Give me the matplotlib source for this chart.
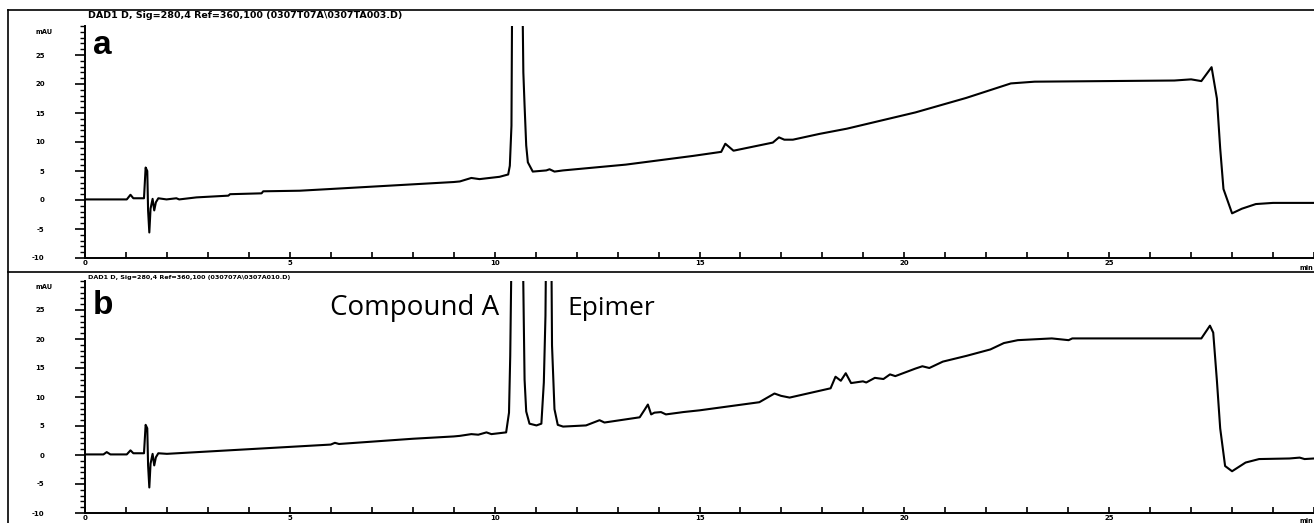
import matplotlib
matplotlib.use("Agg")
import matplotlib.pyplot as plt
from matplotlib.lines import Line2D
from matplotlib.ticker import MultipleLocator

# chromatogram a (time in min, signal in mAU)
t_a = [0.0, 0.5, 1.02, 1.11, 1.18, 1.44, 1.48, 1.52, 1.54, 1.57, 1.60, 1.65, 1.69, 1.73,
       1.79, 1.99, 2.23, 2.30, 2.72, 3.5, 3.54, 4.31, 4.35, 5.24, 6.0, 7.0, 8.0, 9.0,
       9.15, 9.43, 9.63, 10.12, 10.33, 10.37, 10.41, 10.43, 10.55, 10.67, 10.70, 10.73,
       10.77, 10.81, 10.93, 11.26, 11.34, 11.46, 11.67,
       13.2, 14.84, 15.53, 15.63, 15.83, 16.79, 16.94, 17.07, 17.28, 17.93, 18.6, 20.27,
       21.51, 22.6, 23.18, 26.59, 27.0, 27.25,
       27.5, 27.63, 27.71, 27.79, 28.0, 28.24, 28.58, 29.0, 30.0]
mau_a = [0.1, 0.1, 0.1, 0.9, 0.3, 0.3, 5.6, 5.0, -1.8, -5.6, -1.5, 0.2, -1.8, -0.4,
         0.3, 0.1, 0.3, 0.1, 0.45, 0.75, 1.0, 1.15, 1.5, 1.6, 1.9, 2.3, 2.7, 3.1,
         3.2, 3.8, 3.6, 4.0, 4.4, 5.9, 12.8, 40, 60, 40, 22, 16.3,
         9.4, 6.5, 4.9, 5.1, 5.3, 4.9, 5.1,
         6.1, 7.6, 8.3, 9.7, 8.5, 9.9, 10.8, 10.4, 10.4, 11.4, 12.3, 15.1,
         17.6, 20.1, 20.4, 20.6, 20.8, 20.5,
         22.9, 17.5, 8.9, 1.9, -2.3, -1.5, -0.7, -0.5, -0.5]

# chromatogram b
t_b = [0.0, 0.45, 0.53, 0.62, 1.02, 1.11, 1.18, 1.44, 1.48, 1.52, 1.54, 1.57, 1.60, 1.65,
       1.69, 1.73, 1.79, 2.0, 3.0, 4.0, 5.0, 6.0, 6.1, 6.2, 7.0, 8.0, 9.0,
       9.15, 9.43, 9.6, 9.8, 9.92, 10.28, 10.35, 10.38, 10.42, 10.55, 10.68, 10.71, 10.73,
       10.77, 10.85, 11.02, 11.14, 11.2, 11.24, 11.26, 11.32, 11.38, 11.40, 11.46, 11.54, 11.67,
       12.23, 12.56, 12.68, 13.54, 13.66, 13.74, 13.82, 13.9, 14.06, 14.18, 14.5, 14.6,
       15.0, 16.46, 16.83, 16.99,
       17.2, 18.2, 18.32, 18.45, 18.57, 18.7, 18.99, 19.07, 19.28, 19.49, 19.65, 19.78,
       20.27, 20.44, 20.61, 20.94, 21.52, 22.1, 22.43, 22.77, 23.6, 24.01, 24.1,
       27.25, 27.46, 27.54, 27.63, 27.71, 27.83, 28.0, 28.33, 28.66, 29.4, 29.65, 29.77, 30.0]
mau_b = [0.1, 0.1, 0.5, 0.1, 0.1, 0.8, 0.3, 0.3, 5.2, 4.6, -1.8, -5.6, -1.5, 0.2,
         -1.8, -0.4, 0.3, 0.2, 0.6, 1.0, 1.4, 1.8, 2.1, 1.9, 2.3, 2.8, 3.2,
         3.3, 3.6, 3.5, 3.9, 3.6, 3.9, 7.3, 17.1, 40, 60, 40, 23.5, 13,
         7.5, 5.4, 5.1, 5.4, 12.5, 24, 40, 50, 40, 18.9, 7.9, 5.2, 4.9,
         5.1, 6.0, 5.6, 6.5, 7.8, 8.7, 7.0, 7.3, 7.4, 7.0, 7.3, 7.4,
         7.7, 9.1, 10.6, 10.2,
         9.9, 11.5, 13.5, 12.8, 14.1, 12.4, 12.7, 12.5, 13.3, 13.1, 13.9, 13.6,
         14.9, 15.3, 15.0, 16.1, 17.1, 18.2, 19.3, 19.8, 20.1, 19.8, 20.1,
         20.1, 22.3, 21.1, 12.8, 4.6, -1.9, -2.8, -1.3, -0.7, -0.6, -0.45, -0.7, -0.6]

x_ticks = [0, 5, 10, 15, 20, 25]
y_ticks = [-10, -5, 0, 5, 10, 15, 20, 25]
headers = ["DAD1 D, Sig=280,4 Ref=360,100 (0307T07A\\0307TA003.D)",
           "DAD1 D, Sig=280,4 Ref=360,100 (030707A\\0307A010.D)"]
panel_labels = ["a", "b"]

W, H = 1314, 523
fig = plt.figure(figsize=(W / 100, H / 100), dpi=100)


def px(x, y):
    return x / W, 1 - y / H


def setup_axis(ax):
    ax.set_xlim(0, 30)
    ax.set_ylim(-10, 30)
    for s in ["top", "right"]:
        ax.spines[s].set_visible(False)
    for s in ["left", "bottom"]:
        ax.spines[s].set_linewidth(1.4)
    ax.set_xticks(x_ticks)
    ax.set_xticklabels([str(v) for v in x_ticks])
    ax.xaxis.set_minor_locator(MultipleLocator(1))
    ax.set_yticks(y_ticks)
    ax.set_yticklabels([str(v) for v in y_ticks])
    ax.yaxis.set_minor_locator(MultipleLocator(1))
    ax.tick_params(axis="x", which="both", direction="in", length=4, width=1.2,
                   pad=1.5, labelsize=5)
    ax.tick_params(axis="y", which="major", direction="out", length=7, width=1.2,
                   pad=22, labelsize=5)
    ax.tick_params(axis="y", which="minor", direction="out", length=3.5, width=1.0)
    for lab in ax.get_xticklabels() + ax.get_yticklabels():
        lab.set_fontweight("bold")
    for lab in ax.get_yticklabels():
        lab.set_horizontalalignment("right")


ax_a = fig.add_axes([85 / W, 265 / H, (W - 85) / W, 232 / H])
ax_b = fig.add_axes([85 / W, 10 / H, (W - 85) / W, 232 / H])

ax_a.plot(t_a, mau_a, color="black", lw=1.5)
ax_b.plot(t_b, mau_b, color="black", lw=1.5)
setup_axis(ax_a)
setup_axis(ax_b)

# frame around the two panels
fig.add_artist(Line2D([8 / W, 8 / W], [0, 1 - 10 / H], transform=fig.transFigure,
                      color="black", lw=1.2))
fig.add_artist(Line2D([8 / W, 1], [1 - 10 / H, 1 - 10 / H], transform=fig.transFigure,
                      color="black", lw=1.2))
fig.add_artist(Line2D([8 / W, 1], [1 - 272 / H, 1 - 272 / H], transform=fig.transFigure,
                      color="black", lw=1.2))

# header strings, mAU and min labels
for hdr, y0, fs in zip(headers, [15, 277], [6.8, 4.6]):
    fig.text(*px(88, y0), hdr, fontsize=fs, fontweight="bold", va="center", ha="left")
for y0 in [32, 287]:
    fig.text(*px(53, y0), "mAU", fontsize=4.8, fontweight="bold", va="center", ha="right")
for y0 in [268, 521]:
    fig.text(*px(1300, y0), "min", fontsize=4.8, fontweight="bold", va="center", ha="left")

# panel letters
for lab, y0 in zip(panel_labels, [54, 314]):
    fig.text(*px(93, y0), lab, fontsize=24, fontweight="bold", family="Liberation Sans",
             va="baseline", ha="left")

fig.text(*px(330, 315), "Compound A", fontsize=20, family="Open Sans",
         va="baseline", ha="left")
fig.text(*px(567, 315), "Epimer", fontsize=19, family="Open Sans",
         va="baseline", ha="left")

fig.savefig("out.png", dpi=100)
